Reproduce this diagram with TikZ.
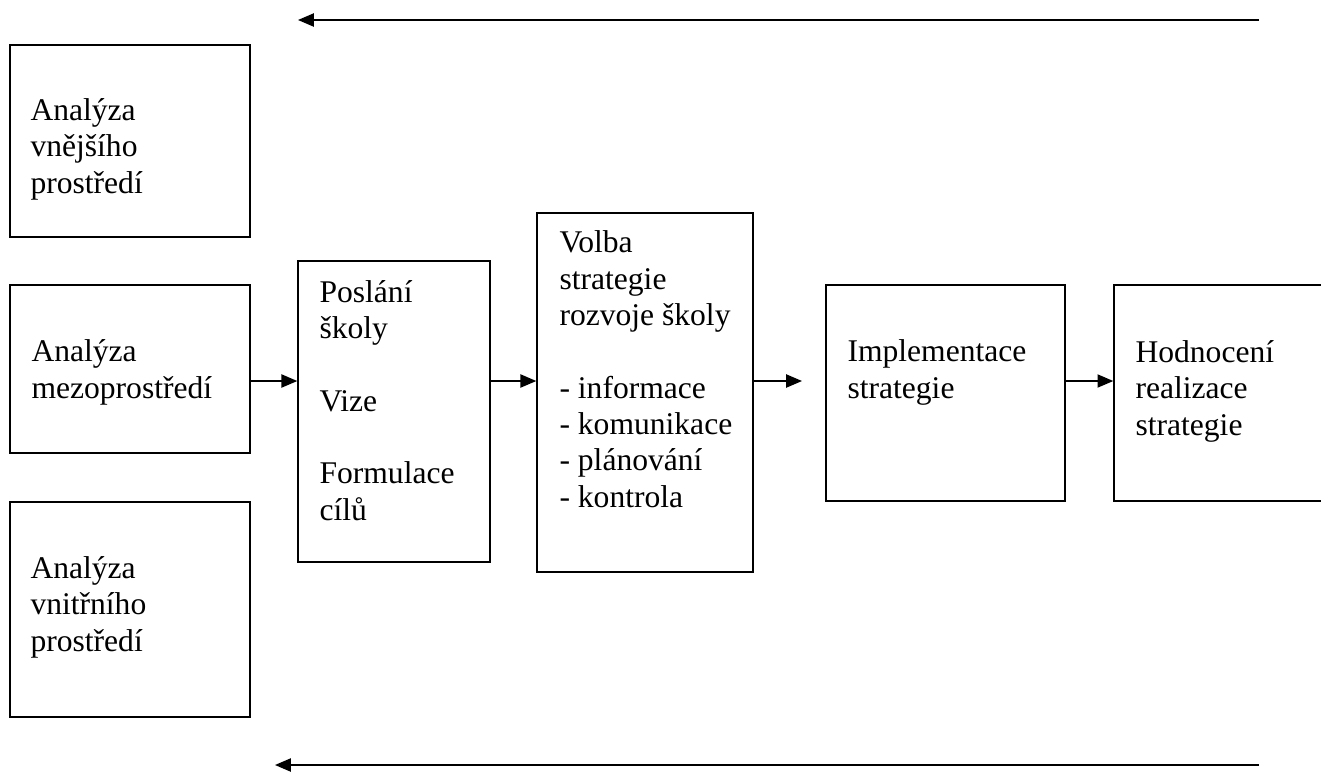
\documentclass[tikz,border=0pt]{standalone}
\usepackage{fontspec}
\setmainfont{Liberation Serif}
\usetikzlibrary{arrows.meta,fit,positioning}
\tikzset{
    box/.style={draw,line width=0.55pt,inner sep=0pt},
    txt/.style={anchor=base west,align=left,inner sep=0pt,font=\fontsize{12}{13.8}\selectfont},
    flow/.style={line width=0.55pt,-{Triangle[length=6pt,width=5pt]}}
}

\begin{document}
\begin{tikzpicture}[x=0.38pt,y=-0.38pt]
                \useasboundingbox (0,0) rectangle (1321,772);
                \coordinate (topR) at (1259,20);
                \coordinate (topL) at (298,20);
                \coordinate (botR) at (1259,765);
                \coordinate (botL) at (275,765);
                \coordinate (lvl) at (0,381);
                \coordinate (gap) at (802,381);

                \node[box,fit={(10,45) (250,237)}] (vnejsi) {};
                \node[box,fit={(10,285) (250,453)}] (mezo) {};
                \node[box,fit={(10,502) (250,717)}] (vnitrni) {};
                \node[box,fit={(298,261) (490,562)}] (poslani) {};
                \node[box,fit={(537,213) (753,572)}] (volba) {};
                \node[box,fit={(826,285) (1065,501)}] (impl) {};
                \node[box,fit={(1114,285) (1340,501)}] (hodn) {};

                % base = last line of each text
                \node[txt] (tvnejsi) at (30,193) {Analýza\\vnějšího\\prostředí};
                \node[txt] (tmezo) at (31,398) {Analýza\\mezoprostředí};
                \node[txt] (tvnitrni) at (30,651) {Analýza\\vnitřního\\prostředí};
                \node[txt] (tposlani) at (319,520) {Poslání\\školy\\[13.8pt]Vize\\[13.8pt]Formulace\\cílů};
                \node[txt] (tvolba) at (559,507) {Volba\\strategie\\rozvoje školy\\[13.8pt]- informace\\- komunikace\\- plánování\\- kontrola};
                \node[txt] (timpl) at (847,398) {Implementace\\strategie};
                \node[txt] (thodn) at (1135,435) {Hodnocení\\realizace\\strategie};

                \draw[flow] (topR) -- (topL);
                \draw[flow] (botR) -- (botL);
                \draw[flow] (mezo.east |- lvl) -- (poslani.west |- lvl);
                \draw[flow] (poslani.east |- lvl) -- (volba.west |- lvl);
                \draw[flow] (volba.east |- lvl) -- (gap);
                \draw[flow] (impl.east |- lvl) -- (hodn.west |- lvl);
\end{tikzpicture}
\end{document}
